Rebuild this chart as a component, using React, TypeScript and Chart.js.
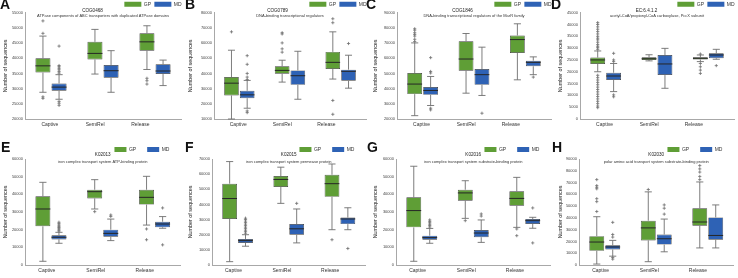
import React, { useEffect, useRef } from "react";
import { Chart, registerables } from "chart.js";
Chart.register(...registerables);

const FONT = "'Liberation Sans', Arial, sans-serif";

const categories = ["Captive", "SemiRel", "Release"];
const seriesNames = ["GP", "MD"];
const seriesColors = ["#5f9e36", "#2e62b5"];

const panelLetters = ["A", "B", "C", "D", "E", "F", "G", "H"];
const panelCodes = ["COG0468", "COG0789", "COG1846", "EC:6.4.1.2", "K02013", "K02015", "K02016", "K02030"];
const panelDescriptions = [
  "ATPase components of ABC transporters with duplicated ATPase domains",
  "DNA-binding transcriptional regulators",
  "DNA-binding transcriptional regulators of the MarR family",
  "acetyl-CoA/propionyl-CoA carboxylase, PccX subunit",
  "iron complex transport system ATP-binding protein",
  "iron complex transport system permease protein",
  "iron complex transport system substrate-binding protein",
  "polar amino acid transport system substrate-binding protein",
];
const yAxisTitle = "Number of sequences";
const yTickMin = [20000, 10000, 20000, 0, 0, 0, 0, 0];
const yTickMax = [55000, 80000, 90000, 45000, 60000, 70000, 60000, 90000];
const yTickStep = [5000, 10000, 10000, 5000, 10000, 10000, 10000, 10000];

// five-number summaries per category: [lower whisker, Q1, median, Q3, upper whisker]
const A_GP = [[28800, 35300, 37500, 40000, 47300], [34800, 39600, 41600, 45400, 49500], [36300, 42500, 45400, 48200, 50700]];
const A_MD = [[26500, 29300, 30500, 31700, 34600], [28800, 33600, 35900, 37800, 42500], [31000, 34800, 35800, 38000, 39400]];
const A_GP_out = [[52300, 48200, 27300, 26800], [], [33400, 32600, 31500]];
const A_MD_out = [[44000, 37600, 37200, 36700, 36200, 35600, 35100, 25800, 25200, 24500], [], []];

const B_GP = [[10000, 25500, 33600, 37600, 55300], [34300, 39800, 42000, 44700, 48700], [36300, 42900, 47300, 54200, 67400]];
const B_MD = [[17100, 23700, 25900, 28600, 35400], [23000, 32500, 38500, 42000, 54600], [30300, 35200, 41400, 42500, 52000]];
const B_GP_out = [[67400], [66800, 66000, 60100, 56200, 54000], [76000, 73400, 22200, 13100]];
const B_MD_out = [[51700, 46000, 40000, 37600, 36000, 15300, 14200], [], [59700]];

const C_GP = [[22200, 36400, 43000, 50300, 70100], [37000, 51800, 59500, 71200, 76300], [45800, 63500, 72300, 75000, 82700]];
const C_MD = [[28900, 35900, 38800, 41000, 48000], [35500, 42500, 49200, 52900, 67300], [49200, 54700, 57300, 58400, 60900]];
const C_GP_out = [[79400, 78500, 76800, 75700, 74600, 72500, 71000], [], []];
const C_MD_out = [[60400, 51300, 50300, 27100, 26000], [23800], [47600]];

const D_GP = [[20000, 23300, 25000, 26000, 28800], [24600, 25000, 25500, 26100, 27200], [24300, 25200, 25700, 26100, 27100]];
const D_MD = [[11600, 16500, 18200, 19600, 23500], [13000, 18600, 23300, 27100, 29900], [25300, 25700, 27100, 27800, 29500]];
const D_GP_out = [
  [40800, 40000, 39000, 38000, 37000, 36000, 35000, 34200, 33500, 32500, 31500, 30800, 30200, 29500,
    18500, 17500, 16500, 15500, 14500, 13500, 12500, 11500, 10500, 9500, 8500, 7500, 6500, 5500, 4800],
  [],
  [27500, 23500, 22100, 20700, 19300],
];
const D_MD_out = [[27800, 25000, 24300, 10200, 9400], [], [22600]];

const E_GP = [[2100, 21900, 31700, 38900, 46800], [31700, 37700, 41500, 42600, 48300], [22600, 34200, 38300, 42600, 50200]];
const E_MD = [[12300, 14500, 15700, 16800, 18500], [13800, 16000, 17900, 20000, 26000], [20800, 21300, 23200, 24500, 27400]];
const E_GP_out = [[], [30200], [20400, 14300]];
const E_MD_out = [[24200, 23400, 22600, 21900, 21200, 20500, 19800, 19200], [28300, 27500], [32300, 11400]];

const F_GP = [[2200, 30400, 43900, 53700, 68300], [40700, 51500, 56500, 58700, 64600], [23300, 45000, 53700, 59600, 66700]];
const F_MD = [[12400, 14600, 16100, 17200, 20000], [14600, 20000, 23900, 27000, 37000], [23300, 27000, 30400, 31300, 37800]];
const F_GP_out = [[], [], [16700]];
const F_MD_out = [[30900, 30000, 29000, 28000, 27000, 26000, 25000, 24000, 23000, 22000, 21000], [40700], [10900]];

const G_GP = [[2100, 21300, 30800, 38300, 55900], [26400, 36400, 40800, 42600, 47700], [21300, 33600, 37700, 41700, 49600]];
const G_MD = [[12300, 14300, 15500, 16600, 20700], [12800, 15700, 18100, 19800, 25500], [20800, 23200, 25100, 26000, 27000]];
const G_GP_out = [[], [25100], [20400, 16600]];
const G_MD_out = [[25500, 24700, 23900, 23100, 22300, 21500], [28900, 27700], [32300, 12500]];

const H_GP = [[800, 12000, 19500, 24500, 41000], [2800, 20900, 31500, 37600, 62100], [14500, 33400, 36500, 48200, 70500]];
const H_MD = [[7500, 13100, 15300, 16700, 20900], [11200, 17300, 22300, 25900, 39000], [14500, 21500, 25100, 40400, 51000]];
const H_GP_out = [[72500, 67400, 66000, 64700, 56300, 53800, 45400], [64100], [84400, 81600, 78900, 75200, 72500]];
const H_MD_out = [[36200, 25900, 23700, 6400, 5000], [51000, 48200, 43200], []];

const panelBoxes = [
  [A_GP, A_MD], [B_GP, B_MD], [C_GP, C_MD], [D_GP, D_MD],
  [E_GP, E_MD], [F_GP, F_MD], [G_GP, G_MD], [H_GP, H_MD],
];
const panelOutliers = [
  [A_GP_out, A_MD_out], [B_GP_out, B_MD_out], [C_GP_out, C_MD_out], [D_GP_out, D_MD_out],
  [E_GP_out, E_MD_out], [F_GP_out, F_MD_out], [G_GP_out, G_MD_out], [H_GP_out, H_MD_out],
];

// layout (not data)
const colLefts = [0, 185, 370, 555];
const colWidths = [185, 185, 185, 183];
const PANEL_H = 139;
const axisLeft = [25, 29, 27, 25, 25, 27, 26, 24];
const letterLefts = [0, 185, 366, 551, 1, 185, 367, 552];
const rowLayouts = [
  { padTop: -1.6, padRight: 0, padBottom: 7, rightAxisW: 4, boxW: 17, boxH: 5, legendPad: 3.3, legendMaxH: 9,
    titlePad: { top: 0.14, bottom: -4.66 }, subPad: { top: 4.9, bottom: -5.4 }, titleFull: true, letterTop: -3,
    labelMin: -0.55, labelMax: 2.9 },
  { padTop: -3, padRight: 4.5, padBottom: 0, rightAxisW: 0, boxW: 12, boxH: 5, legendPad: 11, legendMaxH: 17,
    titlePad: { top: -0.96, bottom: -3.56 }, subPad: { top: 5.6, bottom: -5.4 }, titleFull: false, letterTop: 139.8,
    labelMin: -0.444, labelMax: 2.73 },
];

const WHISKER = "#6e6e6e";
const MEDIAN = "#262626";
const AXIS = "#a8a8a8";

const boxStatsPlugin = {
  id: "boxStats",
  beforeDraw(chart: any) {
    const lg = chart.legend;
    if (lg && lg.lineWidths && !lg._widened) {
      lg.lineWidths = lg.lineWidths.map((w: number) => w + 0.05);
      lg._widened = true;
    }
  },
  afterDatasetsDraw(chart: any) {
    const ctx = chart.ctx;
    const y = chart.scales.y;
    chart.data.datasets.forEach((ds: any, di: number) => {
      const meta = chart.getDatasetMeta(di);
      meta.data.forEach((bar: any, i: number) => {
        const { x, width } = bar.getProps(["x", "width"], true);
        const st = ds.stats[i];
        const pMin = y.getPixelForValue(st[0]);
        const pQ1 = y.getPixelForValue(st[1]);
        const pMed = y.getPixelForValue(st[2]);
        const pQ3 = y.getPixelForValue(st[3]);
        const pMax = y.getPixelForValue(st[4]);
        const cap = width * 0.24;
        ctx.save();
        ctx.strokeStyle = WHISKER;
        ctx.lineWidth = 0.9;
        ctx.beginPath();
        ctx.moveTo(x, pQ3); ctx.lineTo(x, pMax);
        ctx.moveTo(x, pQ1); ctx.lineTo(x, pMin);
        ctx.moveTo(x - cap, pMax); ctx.lineTo(x + cap, pMax);
        ctx.moveTo(x - cap, pMin); ctx.lineTo(x + cap, pMin);
        ctx.stroke();
        ctx.strokeStyle = MEDIAN;
        ctx.lineWidth = 1;
        ctx.beginPath();
        ctx.moveTo(x - width / 2, pMed); ctx.lineTo(x + width / 2, pMed);
        ctx.stroke();
        ctx.strokeStyle = WHISKER;
        ctx.lineWidth = 0.8;
        const s = 1.6;
        ctx.beginPath();
        (ds.outliers[i] || []).forEach((v: number) => {
          const py = y.getPixelForValue(v);
          ctx.moveTo(x - s, py); ctx.lineTo(x + s, py);
          ctx.moveTo(x, py - s); ctx.lineTo(x, py + s);
        });
        ctx.stroke();
        ctx.restore();
      });
    });
  },
};

function makeConfig(p: number): any {
  const row = p < 4 ? 0 : 1;
  const rl = rowLayouts[row];
  const datasets = seriesNames.map((name, s) => ({
    label: name,
    data: panelBoxes[p][s].map((b) => [b[1], b[3]]),
    stats: panelBoxes[p][s],
    outliers: panelOutliers[p][s],
    backgroundColor: seriesColors[s],
    borderColor: "#3a3a3a",
    borderWidth: 0.7,
    borderSkipped: false,
    categoryPercentage: 0.62,
    barPercentage: 0.93,
  }));
  return {
    type: "bar",
    data: { labels: categories, datasets },
    plugins: [boxStatsPlugin],
    options: {
      responsive: false,
      animation: false,
      devicePixelRatio: 1,
      layout: { padding: { top: rl.padTop, right: rl.padRight, bottom: rl.padBottom, left: 0 } },
      plugins: {
        tooltip: { enabled: false },
        legend: {
          display: true,
          position: "top",
          align: "end",
          weight: 3000,
          maxHeight: rl.legendMaxH,
          labels: {
            boxWidth: rl.boxW,
            boxHeight: rl.boxH,
            padding: rl.legendPad,
            color: "#333",
            font: { family: FONT, size: 5 },
            generateLabels: (chart: any) =>
              Chart.defaults.plugins.legend.labels.generateLabels(chart).map((l: any) => ({ ...l, lineWidth: 0 })),
          },
        },
        title: {
          display: true,
          text: panelCodes[p],
          color: "#222",
          fullSize: rl.titleFull,
          font: { family: FONT, size: 4.6, weight: "normal" },
          padding: rl.titlePad,
        },
        subtitle: {
          display: true,
          text: panelDescriptions[p],
          color: "#333",
          fullSize: false,
          font: { family: FONT, size: 4 },
          padding: rl.subPad,
        },
      },
      scales: {
        x: {
          grid: { display: false, drawTicks: false },
          border: { display: true, color: AXIS, width: 1 },
          ticks: { display: false },
          afterFit: (s: any) => { s.height = 0; },
        },
        xl: {
          type: "linear",
          position: "bottom",
          offset: false,
          min: rl.labelMin,
          max: rl.labelMax,
          grid: { display: false, drawTicks: false, offset: false },
          border: { display: false },
          ticks: {
            color: "#333",
            font: { family: FONT, size: 5 },
            padding: 3,
            maxRotation: 0,
            autoSkip: false,
            callback: (v: any) => categories[v],
          },
          afterBuildTicks: (s: any) => { s.ticks = categories.map((_, i) => ({ value: i })); },
          afterFit: (s: any) => { s.height = 13; },
        },
        y: {
          min: yTickMin[p],
          max: yTickMax[p],
          grid: { display: false, drawTicks: false },
          border: { display: true, color: AXIS, width: 1 },
          ticks: {
            stepSize: yTickStep[p],
            color: "#444",
            font: { family: FONT, size: 4 },
            padding: 2,
            callback: (v: any) => String(v),
          },
          title: {
            display: true,
            text: yAxisTitle,
            color: "#222",
            font: { family: FONT, size: 5.4 },
            padding: { top: 2.2, bottom: 0 },
          },
          afterFit: (s: any) => { s.width = axisLeft[p]; },
        },
        yR: {
          position: "right",
          display: true,
          grid: { display: false, drawTicks: false },
          border: { display: false },
          ticks: { display: false },
          afterFit: (s: any) => { s.width = rl.rightAxisW; },
        },
      },
    },
  };
}

function Panel({ index }: { index: number }) {
  const ref = useRef<HTMLCanvasElement>(null);
  const col = index % 4;
  const row = Math.floor(index / 4);
  useEffect(() => {
    const chart = new Chart(ref.current as HTMLCanvasElement, makeConfig(index));
    return () => chart.destroy();
  }, [index]);
  return (
    <canvas
      ref={ref}
      width={colWidths[col]}
      height={PANEL_H}
      style={{ position: "absolute", left: colLefts[col], top: row * PANEL_H, width: colWidths[col], height: PANEL_H }}
    />
  );
}

export default function App() {
  return (
    <div style={{ position: "fixed", left: 0, top: 0, width: 738, height: 278, background: "#fff", overflow: "hidden" }}>
      {panelLetters.map((_, i) => (
        <Panel key={"p" + i} index={i} />
      ))}
      {panelLetters.map((letter, i) => (
        <div
          key={"l" + i}
          style={{
            position: "absolute",
            left: letterLefts[i],
            top: rowLayouts[Math.floor(i / 4)].letterTop,
            fontFamily: FONT,
            fontWeight: "bold",
            fontSize: 14,
            lineHeight: "14px",
            color: "#111",
          }}
        >
          {letter}
        </div>
      ))}
    </div>
  );
}
